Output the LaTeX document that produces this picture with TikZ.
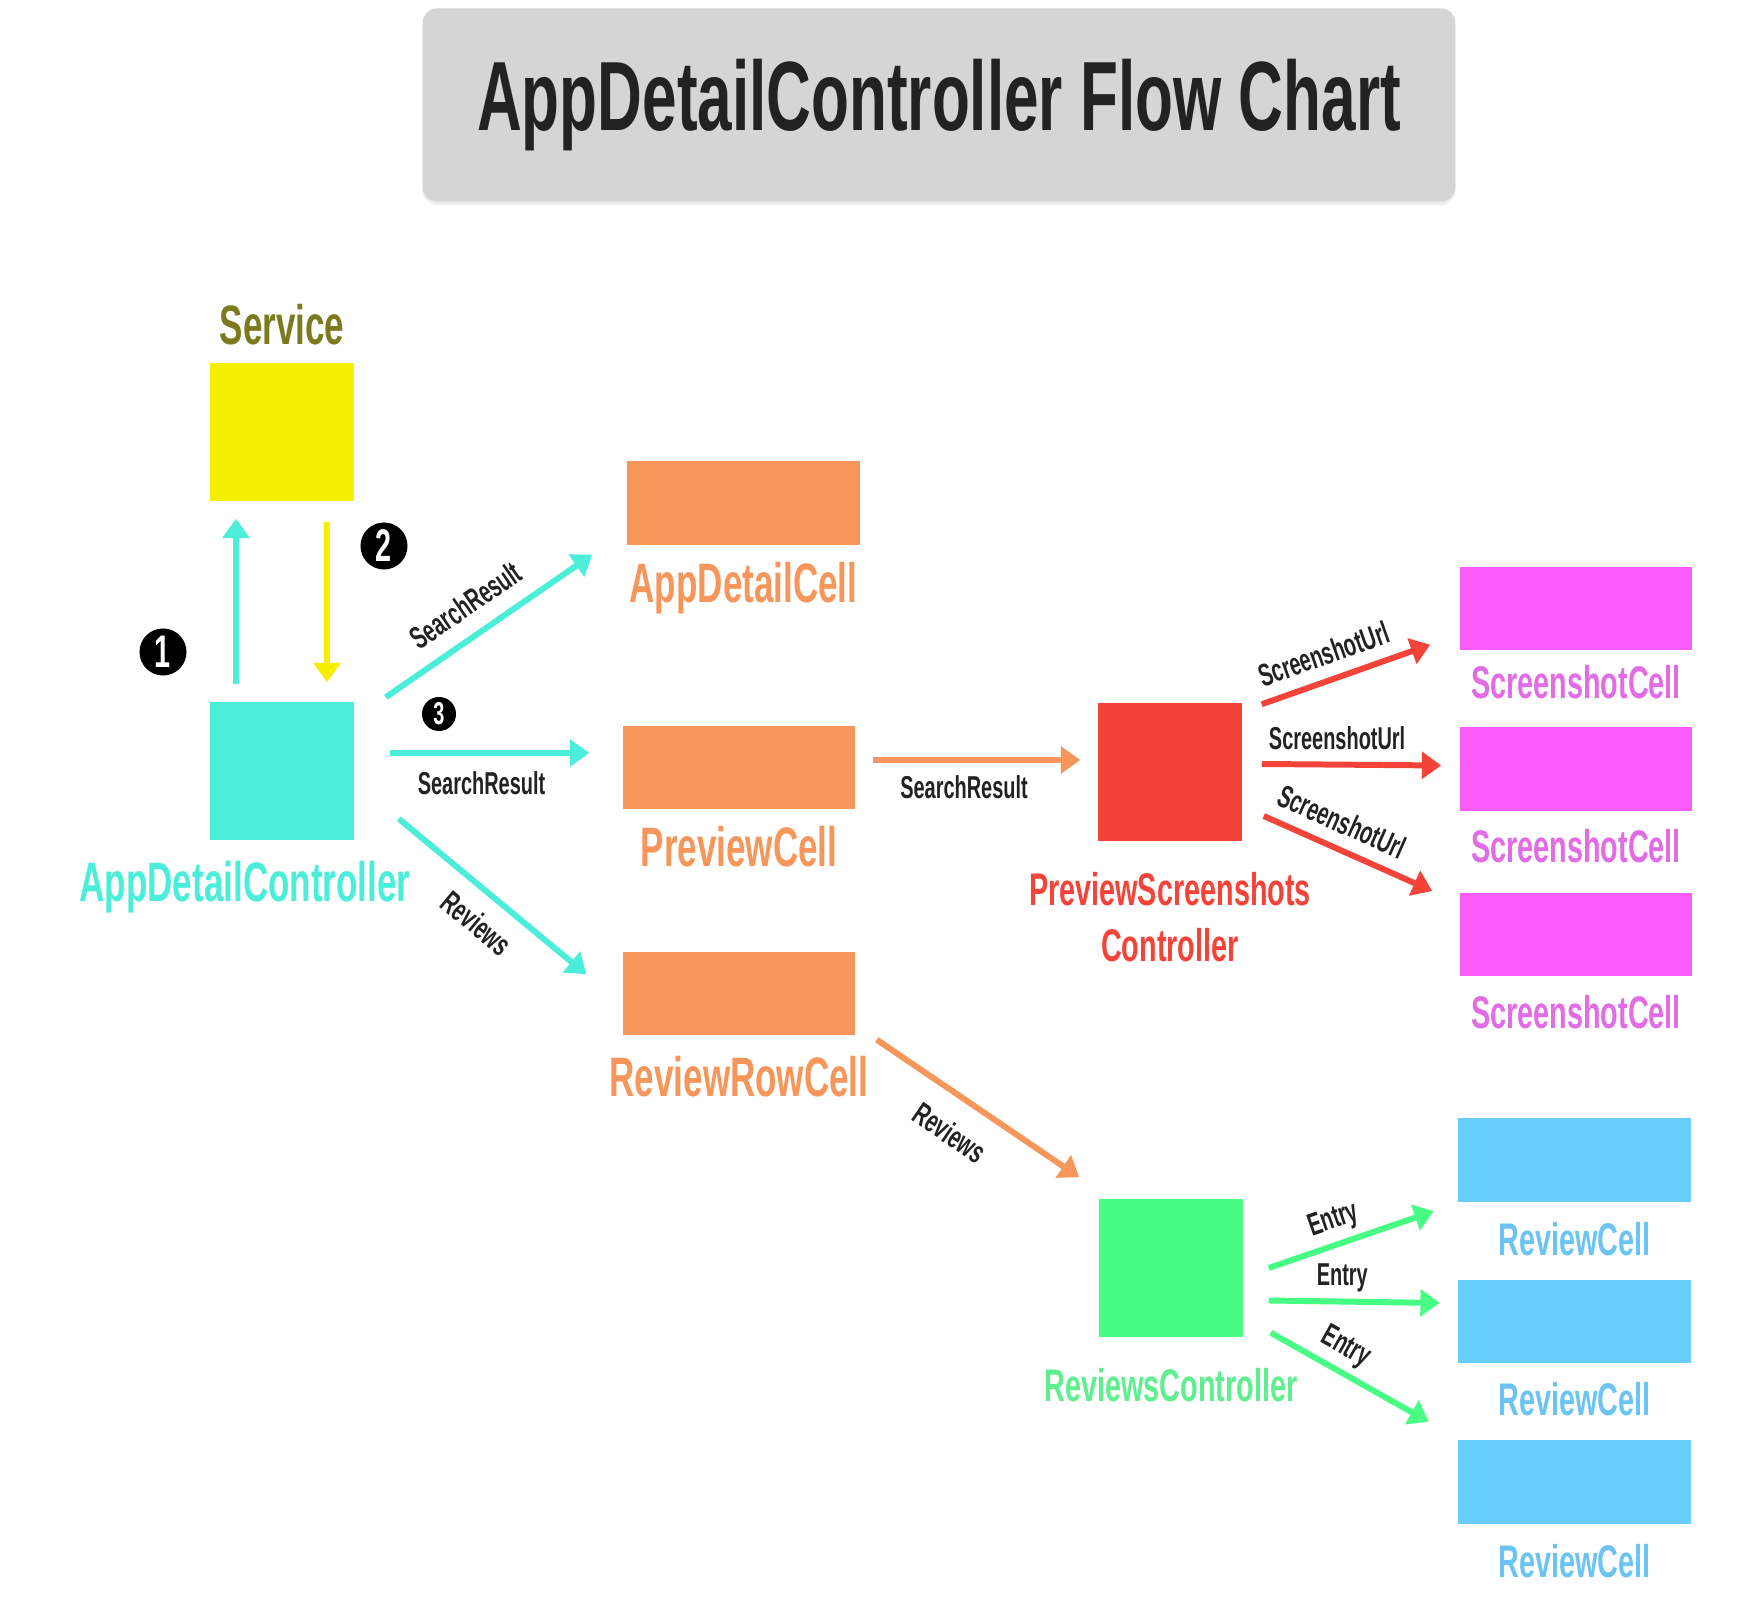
\documentclass[tikz,border=0pt]{standalone}
\usepackage{fontspec}
\setmainfont{Liberation Sans}[FakeStretch=0.63]
\usepackage{tikz}
\usetikzlibrary{arrows.meta,positioning,shadows}
\definecolor{adcInk}{HTML}{222222}
\definecolor{adcGray}{HTML}{D5D5D5}
\definecolor{adcTeal}{HTML}{4BEFD9}
\definecolor{adcYellow}{HTML}{F7EF02}
\definecolor{adcOlive}{HTML}{7B7A1E}
\definecolor{adcOrange}{HTML}{F6965A}
\definecolor{adcRed}{HTML}{F4443A}
\definecolor{adcMagenta}{HTML}{FB5CF9}
\definecolor{adcPink}{HTML}{E26BE6}
\definecolor{adcBlue}{HTML}{68CEFE}
\definecolor{adcSky}{HTML}{6BC4F4}
\definecolor{adcGreen}{HTML}{48FD84}
\definecolor{adcMint}{HTML}{5FEF8F}
\tikzset{
    >={Triangle[length=5.5pt,width=7.5pt]},
    titlebox/.style={rounded corners=4pt, fill=adcGray, text=adcInk, minimum width=10.32cm, minimum height=1.93cm, font=\bfseries\fontsize{28}{30}\selectfont, drop shadow={shadow xshift=0pt, shadow yshift=-1pt, opacity=0.12}},
    ctrlbox/.style={rectangle, inner sep=0pt, minimum width=1.43cm, minimum height=1.38cm},
    cellbox/.style={rectangle, inner sep=0pt, minimum width=2.32cm, minimum height=0.83cm},
    biglbl/.style={inner sep=0pt, font=\bfseries\fontsize{15.8}{18}\selectfont},
    lbl/.style={inner sep=0pt, align=center, font=\bfseries\fontsize{13}{16}\selectfont},
    edgelbl/.style={inner sep=1pt, text=adcInk, font=\bfseries\fontsize{9}{10}\selectfont},
    badge/.style={circle, fill=black, text=white, inner sep=0pt, minimum size=0.47cm, font=\bfseries\fontsize{13}{13}\selectfont},
    arrow/.style={->, line width=1.7pt}
}
\begin{document}
\begin{tikzpicture}[x=0.01cm, y=-0.01cm]
\path[use as bounding box, fill=white] (0,0) rectangle (1762,1604);
\node[titlebox] (title) at (939,105) {AppDetailController Flow Chart};
% controllers
\node[ctrlbox, fill=adcYellow] (srv) at (282,432) {};
\node[biglbl, text=adcOlive, above=4.7pt of srv] (srvlbl) {Service};
\node[ctrlbox, fill=adcTeal] (adc) at (282,771) {};
\node[biglbl, text=adcTeal, below=5.5pt of adc, xshift=-0.37cm] (adclbl) {AppDetailController};
\node[ctrlbox, fill=adcRed] (psc) at (1170,772) {};
\node[lbl, text=adcRed, below=8.5pt of psc] (psclbl) {PreviewScreenshots\\Controller};
\node[ctrlbox, fill=adcGreen] (rc) at (1171,1268) {};
\node[lbl, text=adcMint, below=8.5pt of rc] (rclbl) {ReviewsController};
% cells
\node[cellbox, fill=adcOrange] (appcell) at (743.5,503) {};
\node[biglbl, text=adcOrange, below=4.5pt of appcell] (appcelllbl) {AppDetailCell};
\node[cellbox, fill=adcOrange] (prevcell) at (739,767.5) {};
\node[biglbl, text=adcOrange, below=4.5pt of prevcell] (prevcelllbl) {PreviewCell};
\node[cellbox, fill=adcOrange] (rowcell) at (739,993.5) {};
\node[biglbl, text=adcOrange, below=5.5pt of rowcell] (rowcelllbl) {ReviewRowCell};
\node[cellbox, fill=adcMagenta] (shot1) at (1576,608.5) {};
\node[lbl, text=adcPink, below=4pt of shot1] (shot1lbl) {ScreenshotCell};
\node[cellbox, fill=adcMagenta, below=0.76cm of shot1] (shot2) {};
\node[lbl, text=adcPink, below=5pt of shot2] (shot2lbl) {ScreenshotCell};
\node[cellbox, fill=adcMagenta, below=0.81cm of shot2] (shot3) {};
\node[lbl, text=adcPink, below=5pt of shot3] (shot3lbl) {ScreenshotCell};
\node[cellbox, fill=adcBlue] (rev1) at (1574.5,1160) {};
\node[lbl, text=adcSky, below=5.4pt of rev1] (rev1lbl) {ReviewCell};
\node[cellbox, fill=adcBlue, below=0.77cm of rev1] (rev2) {};
\node[lbl, text=adcSky, below=5pt of rev2] (rev2lbl) {ReviewCell};
\node[cellbox, fill=adcBlue, below=0.76cm of rev2] (rev3) {};
\node[lbl, text=adcSky, below=5.4pt of rev3] (rev3lbl) {ReviewCell};
% step badges
\node[badge] (n1) at (163,652) {1};
\node[badge] (n2) at (384,546) {2};
\node[badge, minimum size=0.34cm, font=\bfseries\fontsize{9}{9}\selectfont] (n3) at (439,714) {3};
% service round trip
\draw[arrow, adcTeal] ([shift={(-46,-17)}]adc.north) -- ([shift={(-46,17)}]srv.south);
\draw[arrow, adcYellow] ([shift={(45,20)}]srv.south) -- ([shift={(45,-19)}]adc.north);
% AppDetailController -> cells
\draw[arrow, adcTeal] ([shift={(31.5,-4)}]adc.north east) -- node[edgelbl, pos=0.47, above=3.5pt, sloped] (sr1) {SearchResult} ([shift={(-34.5,9.5)}]appcell.south west);
\draw[arrow, adcTeal] ([shift={(35.5,-18)}]adc.east) -- node[edgelbl, pos=0.46, below=3.5pt] (sr2) {SearchResult} ([shift={(-33,-14.5)}]prevcell.west);
\draw[arrow, adcTeal] ([shift={(44.5,-22)}]adc.south east) -- node[edgelbl, pos=0.52, below=3.5pt, sloped] (rv1) {Reviews} ([shift={(-36,23)}]rowcell.north west);
% cells -> child controllers
\draw[arrow, adcOrange] ([shift={(17,-7.5)}]prevcell.east) -- node[edgelbl, pos=0.44, below=2.5pt] (sr3) {SearchResult} ([shift={(-17.5,-12)}]psc.west);
\draw[arrow, adcOrange] ([shift={(21,4)}]rowcell.south east) -- node[edgelbl, pos=0.46, below=5pt, sloped] (rv2) {Reviews} ([shift={(-19.5,-21)}]rc.north west);
% PreviewScreenshotsController -> ScreenshotCell
\draw[arrow, adcRed] ([shift={(19.5,2)}]psc.north east) -- node[edgelbl, pos=0.42, above=2.5pt, sloped] (su1) {ScreenshotUrl} ([shift={(-29,-6)}]shot1.south west);
\draw[arrow, adcRed] ([shift={(19.5,-8)}]psc.east) -- node[edgelbl, pos=0.42, above=2.5pt] (su2) {ScreenshotUrl} ([shift={(-18,-3.5)}]shot2.west);
\draw[arrow, adcRed] ([shift={(21.5,44)}]psc.east) -- node[edgelbl, pos=0.40, above=2.5pt, sloped] (su3) {ScreenshotUrl} ([shift={(-27,-43.5)}]shot3.west);
% ReviewsController -> ReviewCell
\draw[arrow, adcGreen] ([shift={(25.5,0)}]rc.east) -- node[edgelbl, pos=0.44, above=0.8pt, sloped] (en1) {Entry} ([shift={(-24,9)}]rev1.south west);
\draw[arrow, adcGreen] ([shift={(25.5,32.5)}]rc.east) -- node[edgelbl, pos=0.43, above=0.8pt] (en2) {Entry} ([shift={(-18,-18.5)}]rev2.west);
\draw[arrow, adcGreen] ([shift={(27.5,-5)}]rc.south east) -- node[edgelbl, pos=0.40, above=0.8pt, sloped] (en3) {Entry} ([shift={(-29,-18)}]rev3.north west);
\end{tikzpicture}
\end{document}
